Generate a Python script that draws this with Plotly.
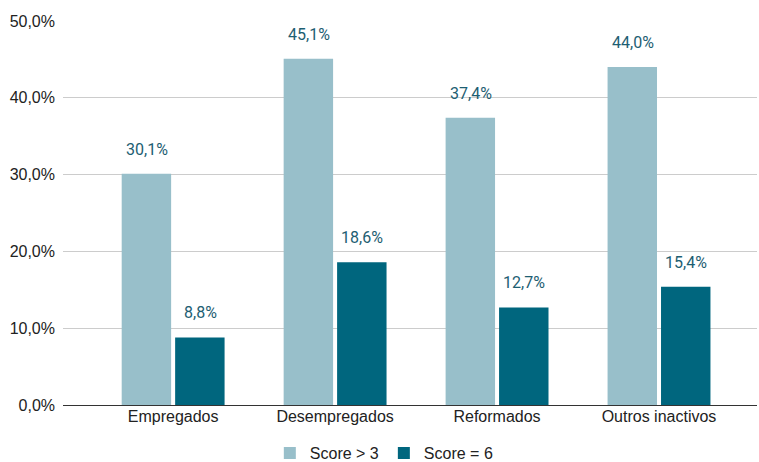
import plotly.graph_objects as go

categories = ["Empregados", "Desempregados", "Reformados", "Outros inactivos"]
score_gt3 = [30.1, 45.1, 37.4, 44.0]
score_eq6 = [8.8, 18.6, 12.7, 15.4]
series_names = ["Score > 3", "Score = 6"]
tick_vals = [0, 10, 20, 30, 40, 50]
tick_text = ["0,0%", "10,0%", "20,0%", "30,0%", "40,0%", "50,0%"]

colors = ["#98BFCA", "#00667E"]
label_color = "#1D5E72"

def fmt(v):
    return f"{v:.1f}".replace(".", ",") + "%"

fig = go.Figure()
for name, vals, col in zip(series_names, [score_gt3, score_eq6], colors):
    fig.add_trace(go.Bar(x=categories, y=vals, name=name, marker_color=col,
                         marker_line_width=0, hoverinfo="skip"))

annotations = []
for vals, xs in [(score_gt3, -26), (score_eq6, 27)]:
    for c, v in zip(categories, vals):
        annotations.append(dict(x=c, y=v, xref="x", yref="y", text=fmt(v),
                                showarrow=False, xshift=xs, yshift=13,
                                yanchor="bottom",
                                font=dict(family="Roboto", size=16, color=label_color)))

fig.update_layout(
    width=759, height=462,
    margin=dict(l=63, r=2, t=21, b=57, autoexpand=False),
    paper_bgcolor="white", plot_bgcolor="white",
    barmode="group", bargap=0.34, bargroupgap=0.075,
    font=dict(family="Liberation Sans, Arial", size=16, color="#222222"),
    annotations=annotations,
    showlegend=True,
    legend=dict(orientation="h", x=0.463, xanchor="center", y=-0.125, yanchor="middle",
                font=dict(size=16, color="#222222"),
                traceorder="normal"),
    xaxis=dict(range=[-0.68, 3.605], showgrid=False, showline=False, automargin=False,
               ticks="", tickfont=dict(size=16, color="#222222"), fixedrange=True),
    yaxis=dict(range=[0, 50], tickvals=tick_vals, ticktext=tick_text, automargin=False,
               showgrid=True, gridcolor="#CCCCCC", gridwidth=1,
               zeroline=True, zerolinecolor="#333333", zerolinewidth=1,
               ticks="", ticklabelstandoff=7, tickfont=dict(size=16, color="#222222"),
               fixedrange=True),
)
fig.write_html("out.html", config={"displayModeBar": False},
               post_script="document.body.style.margin='0';document.body.style.overflow='hidden';")
